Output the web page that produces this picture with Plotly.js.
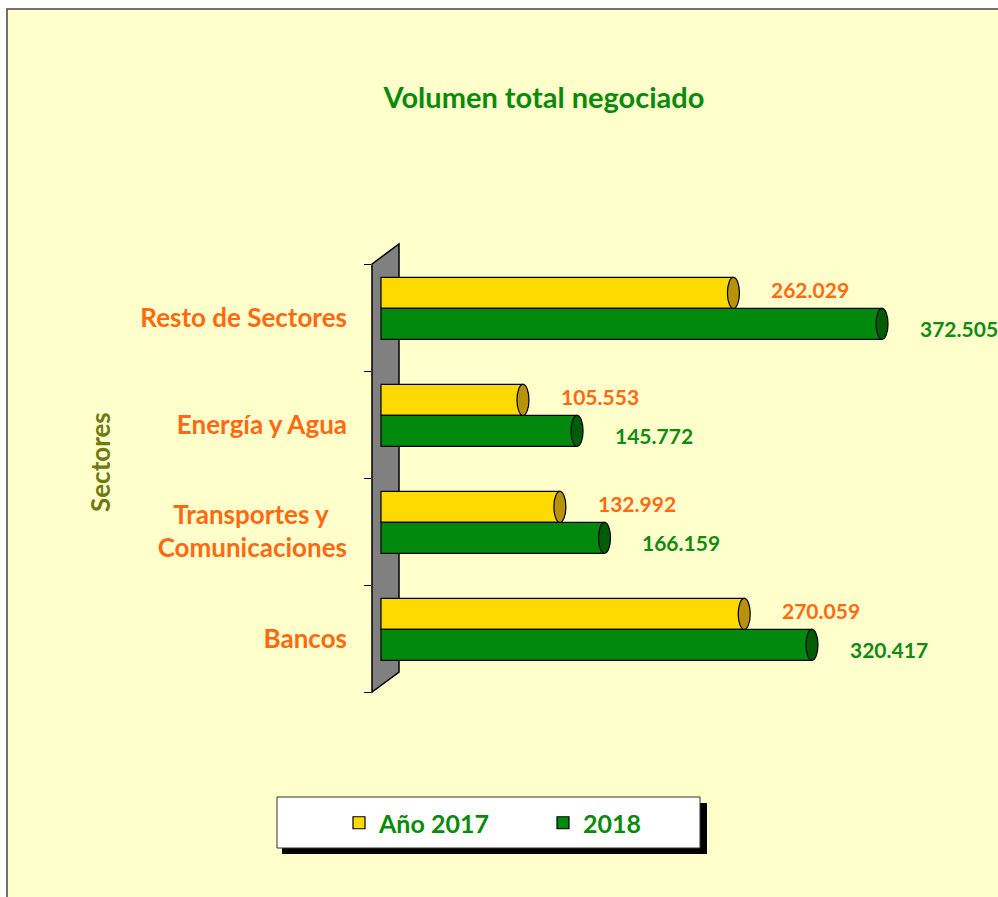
<!DOCTYPE html>
<html>
<head>
<meta charset="utf-8">
<script src="https://cdn.plot.ly/plotly-3.0.1.min.js"></script>
<style>html,body{margin:0;padding:0;background:#fff;}#chart{width:998px;height:897px;}</style>
</head>
<body>
<div id="chart"></div>
<script>
// ---- data ----
const categories = ['Bancos', 'Transportes y\u00a0\u00a0\u00a0<br>Comunicaciones', 'Energía y Agua', 'Resto de Sectores'];
const values2017 = [270.059, 132.992, 105.553, 262.029];
const values2018 = [320.417, 166.159, 145.772, 372.505];
const seriesNames = ['Año 2017', '2018'];
const chartTitle = 'Volumen total negociado';
const axisTitle = 'Sectores';

// ---- layout geometry (pixels) ----
const W = 998, H = 897;
const L = 372, R = 960, T = 264, B = 692;
const zeroPx = 381, pxPerUnit = 1.345;
function px(x) { return (x - L) / (R - L); }
function py(y) { return (B - y) / (B - T); }

const FONT = 'Lato, "Open Sans", sans-serif';
const ORANGE = '#FF6A10';
const GREEN = '#118A11';
const colors = ['#FFDA00', '#01890D'];
const capColors = ['#B8920A', '#005C05'];
const offs = [0.085, -0.205];
const bw = 0.29;

const traces = [values2017, values2018].map((vals, i) => ({
  type: 'bar', orientation: 'h', name: seriesNames[i],
  y: categories, x: vals, offset: offs[i], width: bw,
  marker: { color: colors[i], line: { color: '#000', width: 1.2 } },
  hoverinfo: 'x+name'
}));

const shapes = [];
// outer panel
shapes.push({ type: 'rect', xref: 'paper', yref: 'paper', x0: px(7), x1: px(1010), y0: py(9), y1: py(910),
  fillcolor: '#FFFFCC', line: { color: '#444', width: 1.5 }, layer: 'below' });
// wall
shapes.push({ type: 'path', xref: 'paper', yref: 'paper',
  path: `M ${px(372)} ${py(264)} L ${px(399)} ${py(244)} L ${px(399)} ${py(672)} L ${px(372)} ${py(692)} Z`,
  fillcolor: '#808080', line: { color: '#000', width: 1.5 }, layer: 'below' });
// legend box shadow + box
shapes.push({ type: 'rect', xref: 'paper', yref: 'paper', x0: px(282), x1: px(707), y0: py(803), y1: py(854),
  fillcolor: '#000', line: { width: 0 }, layer: 'below' });
shapes.push({ type: 'rect', xref: 'paper', yref: 'paper', x0: px(277), x1: px(700), y0: py(797), y1: py(848),
  fillcolor: '#FFFFFF', line: { color: '#333', width: 1 }, layer: 'below' });
// cylinder end caps
[values2017, values2018].forEach((vals, i) => {
  vals.forEach((v, k) => {
    shapes.push({ type: 'circle', xref: 'x', yref: 'y', xsizemode: 'pixel', xanchor: v, x0: -6, x1: 6,
      y0: k + offs[i], y1: k + offs[i] + bw, fillcolor: capColors[i], line: { color: '#000', width: 1.2 } });
  });
});

const annotations = [];
[values2017, values2018].forEach((vals, i) => {
  vals.forEach((v, k) => {
    annotations.push({ x: v, y: categories[k], xref: 'x', yref: 'y', text: v.toFixed(3), showarrow: false,
      xanchor: 'left', yanchor: 'middle', xshift: 36, yshift: i === 0 ? 28 : -11,
      font: { family: FONT, size: 21, color: i === 0 ? ORANGE : GREEN, weight: 'bold' } });
  });
});
annotations.push({ xref: 'paper', yref: 'paper', x: px(100), y: py(462), text: axisTitle, textangle: -90,
  showarrow: false, xanchor: 'center', yanchor: 'middle',
  font: { family: FONT, size: 26, color: '#6E7A12', weight: 'bold' } });

const layout = {
  width: W, height: H,
  margin: { l: L, r: W - R, t: T, b: H - B, pad: 0 },
  paper_bgcolor: '#FFFFFF', plot_bgcolor: 'rgba(0,0,0,0)',
  barmode: 'overlay',
  title: { text: chartTitle, x: 544 / W, y: 1 - 98 / H, xref: 'container', yref: 'container',
    xanchor: 'center', yanchor: 'middle', font: { family: FONT, size: 29, color: '#0A8A0A', weight: 'bold' } },
  xaxis: { range: [-(zeroPx - L) / pxPerUnit, (R - zeroPx) / pxPerUnit], showgrid: false, zeroline: false,
    showticklabels: false, ticks: '', showline: false, fixedrange: true },
  yaxis: { type: 'category', categoryorder: 'array', categoryarray: categories, range: [-0.5, 3.5],
    tickson: 'boundaries', ticks: 'outside', ticklen: 7, tickcolor: '#000', tickwidth: 1,
    showgrid: false, zeroline: false, showline: false, ticklabelstandoff: 24,
    tickfont: { family: FONT, size: 26, color: ORANGE, weight: 'bold' } },
  showlegend: true,
  legend: { orientation: 'h', x: px(339), xanchor: 'left', y: py(823), yanchor: 'middle',
    bgcolor: 'rgba(0,0,0,0)', borderwidth: 0, entrywidth: 159, traceorder: 'normal',
    font: { family: FONT, size: 25, color: '#0A8A0A', weight: 'bold' } },
  shapes: shapes, annotations: annotations
};

Plotly.newPlot('chart', traces, layout, { displayModeBar: false, staticPlot: true });
</script>
</body>
</html>
